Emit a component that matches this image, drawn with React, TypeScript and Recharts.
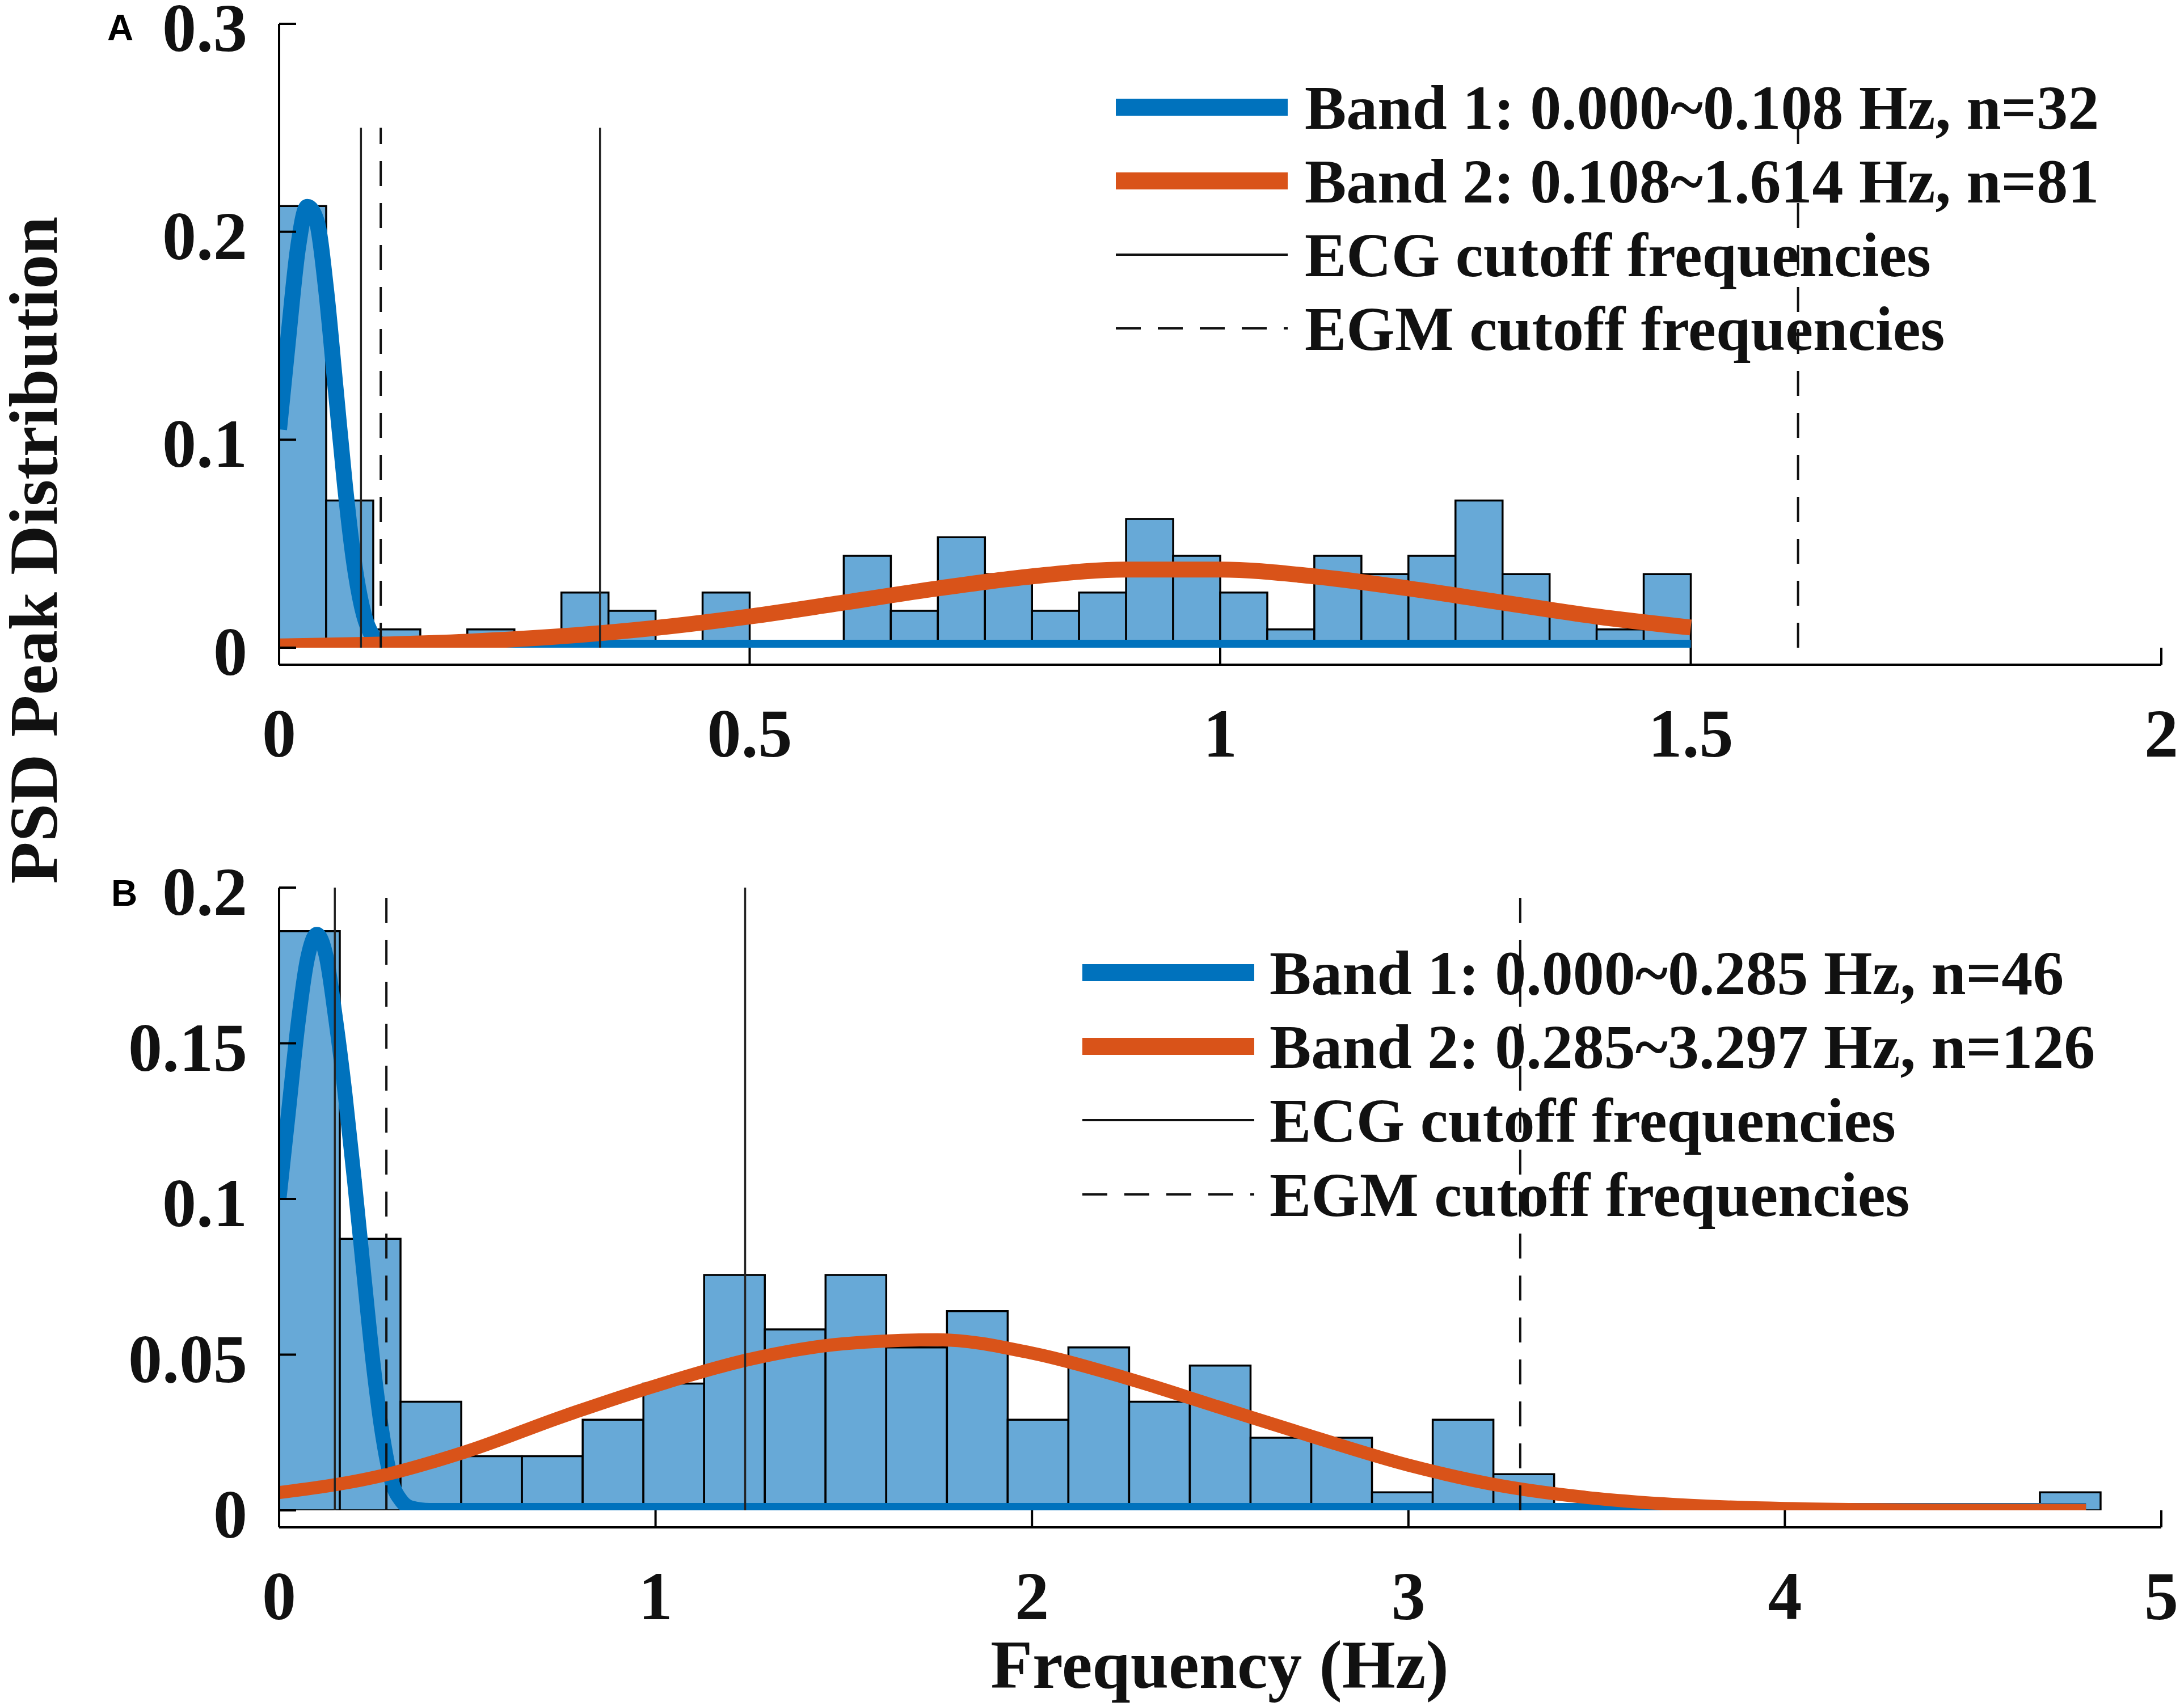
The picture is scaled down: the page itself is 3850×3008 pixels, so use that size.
import React from "react";
import { ComposedChart, Bar, Line, XAxis, YAxis, ReferenceLine } from "recharts";

const SERIF = '"Liberation Serif", "Times New Roman", serif';
const SANS = '"Liberation Sans", Arial, sans-serif';
const BLUE = "#0072BD";
const ORANGE = "#D95319";
const BAR_FILL = "#67A9D7";

// ---------- Panel A data ----------
const binStartA = [
  0, 0.05, 0.1, 0.15, 0.2, 0.25, 0.3, 0.35, 0.4, 0.45,
  0.5, 0.55, 0.6, 0.65, 0.7, 0.75, 0.8, 0.85, 0.9, 0.95,
  1.0, 1.05, 1.1, 1.15, 1.2, 1.25, 1.3, 1.35, 1.4, 1.45,
  1.5, 1.55, 1.6, 1.65, 1.7, 1.75, 1.8, 1.85, 1.9, 1.95,
];
const probA = [
  0.2124, 0.0708, 0.0088, 0, 0.0088, 0, 0.0265, 0.0177, 0, 0.0265,
  0, 0, 0.0442, 0.0177, 0.0531, 0.0354, 0.0177, 0.0265, 0.0619, 0.0442,
  0.0265, 0.0088, 0.0442, 0.0354, 0.0442, 0.0708, 0.0354, 0.0177, 0.0088, 0.0354,
  0, 0, 0, 0, 0, 0, 0, 0, 0, 0,
];
const band1XA = [0, 0.01, 0.02, 0.03, 0.04, 0.05, 0.06, 0.07, 0.08, 0.09, 0.1, 0.11, 0.12, 1.5];
const band1YA = [0.105, 0.15, 0.192, 0.212, 0.205, 0.172, 0.125, 0.078, 0.04, 0.016, 0.005, 0.001, 0, 0];
const band2XA = [0, 0.1, 0.2, 0.3, 0.4, 0.5, 0.6, 0.7, 0.8, 0.9, 1.0, 1.1, 1.2, 1.3, 1.4, 1.5];
const band2YA = [0.0006, 0.0014, 0.0029, 0.0055, 0.0095, 0.015, 0.0217, 0.0285, 0.0343, 0.0376, 0.0376, 0.0343, 0.0285, 0.0217, 0.015, 0.0097];
const ecgA = [0.087, 0.341];
const egmA = [0.108, 1.614];
const cutoffTopA = 0.25;
const xTicksA = [0, 0.5, 1, 1.5, 2];
const xTickLabelsA = ["0", "0.5", "1", "1.5", "2"];
const yTicksA = [0, 0.1, 0.2, 0.3];
const yTickLabelsA = ["0", "0.1", "0.2", "0.3"];
const legendA = [
  "Band 1: 0.000~0.108 Hz, n=32",
  "Band 2: 0.108~1.614 Hz, n=81",
  "ECG cutoff frequencies",
  "EGM cutoff frequencies",
];

// ---------- Panel B data ----------
const binStartB = [
  0, 0.161, 0.323, 0.484, 0.645, 0.806, 0.968, 1.129, 1.29, 1.452,
  1.613, 1.774, 1.935, 2.097, 2.258, 2.419, 2.581, 2.742, 2.903, 3.065,
  3.226, 3.387, 3.548, 3.71, 3.871, 4.032, 4.194, 4.355, 4.516, 4.677, 4.839,
];
const probB = [
  0.186, 0.0872, 0.0349, 0.0174, 0.0174, 0.0291, 0.0407, 0.0756, 0.0581, 0.0756,
  0.0523, 0.064, 0.0291, 0.0523, 0.0349, 0.0465, 0.0233, 0.0233, 0.0058, 0.0291,
  0.0116, 0, 0, 0, 0, 0, 0, 0, 0, 0.0058, 0,
];
const band1XB = [0, 0.025, 0.05, 0.075, 0.1, 0.125, 0.15, 0.175, 0.2, 0.225, 0.25, 0.275, 0.3, 0.325, 0.35, 0.4, 4.8];
const band1YB = [0.1, 0.128, 0.156, 0.177, 0.185, 0.178, 0.158, 0.134, 0.106, 0.076, 0.047, 0.024, 0.009, 0.003, 0.0008, 0, 0];
const band2XB = [0, 0.25, 0.5, 0.75, 1.0, 1.25, 1.5, 1.75, 2.0, 2.25, 2.5, 2.75, 3.0, 3.25, 3.5, 3.75, 4.0, 4.4, 4.8];
const band2YB = [0.0057, 0.0105, 0.019, 0.0300, 0.040, 0.0485, 0.0535, 0.0548, 0.0505, 0.0425, 0.033, 0.0235, 0.0145, 0.0078, 0.0038, 0.0016, 0.0006, 0.0001, 0];
const ecgB = [0.148, 1.238];
const egmB = [0.285, 3.297];
const cutoffTopB = 0.2;
const xTicksB = [0, 1, 2, 3, 4, 5];
const xTickLabelsB = ["0", "1", "2", "3", "4", "5"];
const yTicksB = [0, 0.05, 0.1, 0.15, 0.2];
const yTickLabelsB = ["0", "0.05", "0.1", "0.15", "0.2"];
const legendB = [
  "Band 1: 0.000~0.285 Hz, n=46",
  "Band 2: 0.285~3.297 Hz, n=126",
  "ECG cutoff frequencies",
  "EGM cutoff frequencies",
];

const Y_LABEL = "PSD Peak Distribution";
const X_LABEL = "Frequency (Hz)";

const TICK_LEN = 30;
const TICK_FONT = 120;
const DASH = "44 30";

const zip = (xs: number[], ys: number[]) => xs.map((x, i) => ({ x, y: ys[i] }));
const bins = (starts: number[], p: number[]) => starts.map((s, i) => ({ start: s, p: p[i] }));

function makeYTick(ticks: number[], labels: string[]) {
  return (props: any) => {
    const { x, y, payload } = props;
    const i = ticks.indexOf(payload.value);
    return (
      <g>
        <line x1={x} x2={x + TICK_LEN} y1={y} y2={y} stroke="#000" strokeWidth={4} />
        <text x={x - 56} y={y + 48} textAnchor="end" fontFamily={SERIF} fontWeight="bold" fontSize={TICK_FONT} fill="#111">
          {labels[i]}
        </text>
      </g>
    );
  };
}

function makeXTick(ticks: number[], labels: string[]) {
  return (props: any) => {
    const { x, y, payload } = props;
    const i = ticks.indexOf(payload.value);
    return (
      <g>
        <line x1={x} x2={x} y1={y} y2={y - TICK_LEN} stroke="#000" strokeWidth={4} />
        <text x={x} y={y + 162} textAnchor="middle" fontFamily={SERIF} fontWeight="bold" fontSize={TICK_FONT} fill="#111">
          {labels[i]}
        </text>
      </g>
    );
  };
}

type PanelProps = {
  height: number;
  margin: { top: number; right: number; bottom: number; left: number };
  starts: number[];
  probs: number[];
  b1x: number[];
  b1y: number[];
  b2x: number[];
  b2y: number[];
  b1w: number;
  b2w: number;
  ecg: number[];
  egm: number[];
  top: number;
  xDomain: [number, number];
  yDomain: [number, number];
  xTicks: number[];
  xLabels: string[];
  yTicks: number[];
  yLabels: string[];
};

function Panel(p: PanelProps) {
  return (
    <ComposedChart
      width={3850}
      height={p.height}
      data={bins(p.starts, p.probs)}
      margin={p.margin}
      barCategoryGap={0}
      barGap={0}
    >
      <XAxis xAxisId="bins" dataKey="start" type="category" hide />
      <XAxis
        xAxisId="num"
        dataKey="x"
        type="number"
        domain={p.xDomain}
        ticks={p.xTicks}
        interval={0}
        allowDataOverflow
        height={200}
        tickSize={0}
        tickMargin={0}
        tickLine={false}
        axisLine={{ stroke: "#000", strokeWidth: 4 }}
        tick={makeXTick(p.xTicks, p.xLabels)}
      />
      <YAxis
        type="number"
        domain={p.yDomain}
        ticks={p.yTicks}
        interval={0}
        allowDataOverflow
        width={492}
        tickSize={0}
        tickMargin={0}
        tickLine={false}
        axisLine={{ stroke: "#000", strokeWidth: 4 }}
        tick={makeYTick(p.yTicks, p.yLabels)}
      />
      <Bar xAxisId="bins" dataKey="p" fill={BAR_FILL} stroke="#000" strokeWidth={3.5} isAnimationActive={false} />
      <Line
        xAxisId="num"
        data={zip(p.b1x, p.b1y)}
        dataKey="y"
        type="monotone"
        stroke={BLUE}
        strokeWidth={p.b1w}
        dot={false}
        activeDot={false}
        isAnimationActive={false}
      />
      <Line
        xAxisId="num"
        data={zip(p.b2x, p.b2y)}
        dataKey="y"
        type="monotone"
        stroke={ORANGE}
        strokeWidth={p.b2w}
        dot={false}
        activeDot={false}
        isAnimationActive={false}
      />
      {p.ecg.map((v) => (
        <ReferenceLine
          key={"ecg" + v}
          xAxisId="num"
          segment={[{ x: v, y: 0 }, { x: v, y: p.top }]}
          stroke="#222"
          strokeWidth={3.5}
        />
      ))}
      {p.egm.map((v) => (
        <ReferenceLine
          key={"egm" + v}
          xAxisId="num"
          segment={[{ x: v, y: 0 }, { x: v, y: p.top }]}
          stroke="#111"
          strokeWidth={4}
          strokeDasharray={DASH}
        />
      ))}
    </ComposedChart>
  );
}

function Legend({ rows, lineX1, lineX2, textX, labels }: { rows: number[]; lineX1: number; lineX2: number; textX: number; labels: string[] }) {
  const styles = [
    { stroke: BLUE, w: 30, dash: undefined },
    { stroke: ORANGE, w: 30, dash: undefined },
    { stroke: "#111", w: 4, dash: undefined },
    { stroke: "#111", w: 4, dash: DASH },
  ];
  return (
    <g>
      {labels.map((t, i) => (
        <g key={t}>
          <line x1={lineX1} x2={lineX2} y1={rows[i]} y2={rows[i]} stroke={styles[i].stroke} strokeWidth={styles[i].w} strokeDasharray={styles[i].dash} />
          <text x={textX} y={rows[i] + 38} fontFamily={SERIF} fontWeight="bold" fontSize={110} fill="#111">
            {t}
          </text>
        </g>
      ))}
    </g>
  );
}

export default function App() {
  return (
    <div style={{ position: "absolute", left: 0, top: 0, width: 3850, height: 3008, background: "#fff", overflow: "hidden" }}>
      <div style={{ position: "absolute", left: 0, top: 0 }}>
        <Panel
          height={1500}
          margin={{ top: 42, right: 40, bottom: 158, left: 0 }}
          starts={binStartA}
          probs={probA}
          b1x={band1XA}
          b1y={band1YA}
          b2x={band2XA}
          b2y={band2YA}
          b1w={28}
          b2w={28}
          ecg={ecgA}
          egm={egmA}
          top={cutoffTopA}
          xDomain={[0, 2]}
          yDomain={[0, 0.3]}
          xTicks={xTicksA}
          xLabels={xTickLabelsA}
          yTicks={yTicksA}
          yLabels={yTickLabelsA}
        />
      </div>
      <div style={{ position: "absolute", left: 0, top: 1450 }}>
        <Panel
          height={1558}
          margin={{ top: 115, right: 40, bottom: 145, left: 0 }}
          starts={binStartB}
          probs={probB}
          b1x={band1XB}
          b1y={band1YB}
          b2x={band2XB}
          b2y={band2YB}
          b1w={26}
          b2w={23}
          ecg={ecgB}
          egm={egmB}
          top={cutoffTopB}
          xDomain={[0, 5]}
          yDomain={[0, 0.2]}
          xTicks={xTicksB}
          xLabels={xTickLabelsB}
          yTicks={yTicksB}
          yLabels={yTickLabelsB}
        />
      </div>
      <svg width={3850} height={3008} style={{ position: "absolute", left: 0, top: 0, pointerEvents: "none" }}>
        <Legend rows={[189, 319, 449, 579]} lineX1={1967} lineX2={2270} textX={2300} labels={legendA} />
        <Legend rows={[1715, 1845, 1975, 2106]} lineX1={1908} lineX2={2211} textX={2238} labels={legendB} />
        <text x={189} y={71} fontFamily={SANS} fontWeight="bold" fontSize={64} fill="#000">A</text>
        <text x={196} y={1597} fontFamily={SANS} fontWeight="bold" fontSize={64} fill="#000">B</text>
        <text
          x={100}
          y={970}
          transform="rotate(-90 100 970)"
          textAnchor="middle"
          fontFamily={SERIF}
          fontWeight="bold"
          fontSize={121}
          fill="#111"
        >
          {Y_LABEL}
        </text>
        <text x={2150} y={2976} textAnchor="middle" fontFamily={SERIF} fontWeight="bold" fontSize={121} fill="#111">
          {X_LABEL}
        </text>
      </svg>
    </div>
  );
}
